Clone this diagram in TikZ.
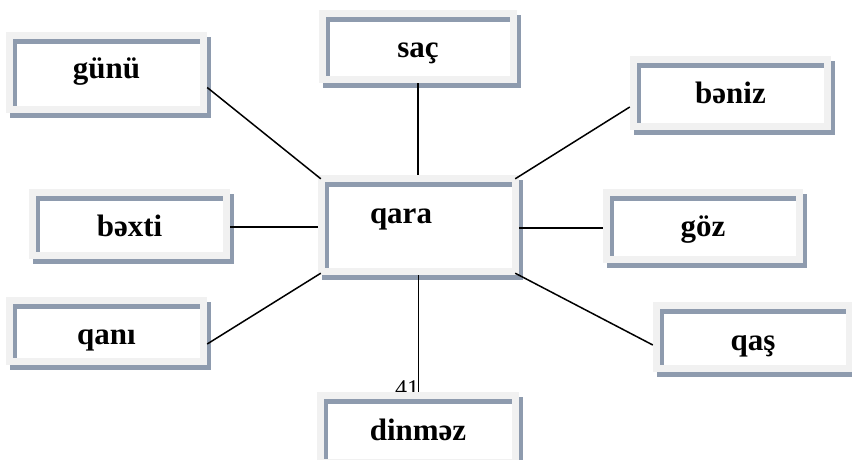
\documentclass[tikz,border=0pt]{standalone}
\usepackage{fontspec}
\setmainfont{Liberation Serif}
\usetikzlibrary{shadows}

\definecolor{framegray}{HTML}{F1F1F1}
\definecolor{barblue}{HTML}{8E9BAE}

\tikzset{
  wordbox/.style={fill=framegray, minimum width=201pt, inner sep=0pt, text depth=6pt,
    font=\fontsize{31}{31}\selectfont\bfseries,
    general shadow={fill=barblue, shadow xshift=4pt, shadow yshift=-5pt},
    path picture={
      \fill[white] ([shift={(7pt,-7pt)}]path picture bounding box.north west) rectangle ([shift={(-7pt,7pt)}]path picture bounding box.south east);
      \fill[barblue] ([shift={(7pt,-7pt)}]path picture bounding box.north west) rectangle ([shift={(-7pt,-12pt)}]path picture bounding box.north east);
      \fill[barblue] ([shift={(7pt,-7pt)}]path picture bounding box.north west) rectangle ([shift={(11pt,7pt)}]path picture bounding box.south west);
    }},
  link/.style={line width=1.5pt}
}

\begin{document}
\begin{tikzpicture}[x=1pt,y=-1pt]
  \useasboundingbox (0,0) rectangle (852,460);
  % stray page number, half under the bottom box
  \node[font=\fontsize{24}{24}\selectfont, anchor=base] (pagenum) at (407,396) {41};

  \node[wordbox, minimum height=100pt, text height=2pt, text width=97pt, align=left] (qara) at (418.5,225) {qara};
  \node[wordbox, minimum height=81pt, text height=19pt] (gunu) at (106.5,72.5) {günü};
  \node[wordbox, minimum width=198pt, minimum height=73pt, text height=29pt] (sac) at (418,46.5) {saç};
  \node[wordbox, minimum height=74pt, text height=26pt] (beniz) at (730.5,93) {bəniz};
  \node[wordbox, minimum height=70pt, text height=30pt] (bexti) at (129.5,224) {bəxti};
  \node[wordbox, minimum width=200pt, minimum height=74pt, text height=26pt] (goz) at (703,226) {göz};
  \node[wordbox, minimum height=68pt, text height=32pt] (qani) at (106.5,331) {qanı};
  \node[wordbox, minimum width=200pt, minimum height=70pt, text height=32pt] (qas) at (753,337) {qaş};
  \node[wordbox, minimum width=202pt, minimum height=74pt, text height=28pt] (dinmez) at (418,429) {dinməz};

  % spokes
  \draw[link] ([yshift=-15pt]gunu.east) -- ([shift={(3pt,-4pt)}]qara.north west);
  \draw[link] (sac.south) -- (sac.south |- qara.north);
  \draw[link] ([yshift=-14pt]beniz.west) -- ([shift={(-4pt,-4pt)}]qara.north east);
  \draw[link] ([yshift=-3pt]bexti.east) -- ([yshift=-3pt]bexti.east -| qara.west);
  \draw[link] ([yshift=-2pt]goz.west) -- ([yshift=-2pt]goz.west -| qara.east);
  \draw[link] ([yshift=-13pt]qani.east) -- ([shift={(3pt,2pt)}]qara.south west);
  \draw[link] ([yshift=-8pt]qas.west) -- ([shift={(-4pt,2pt)}]qara.south east);
  \draw[link] (qara.south) -- (qara.south |- dinmez.north);
\end{tikzpicture}
\end{document}
